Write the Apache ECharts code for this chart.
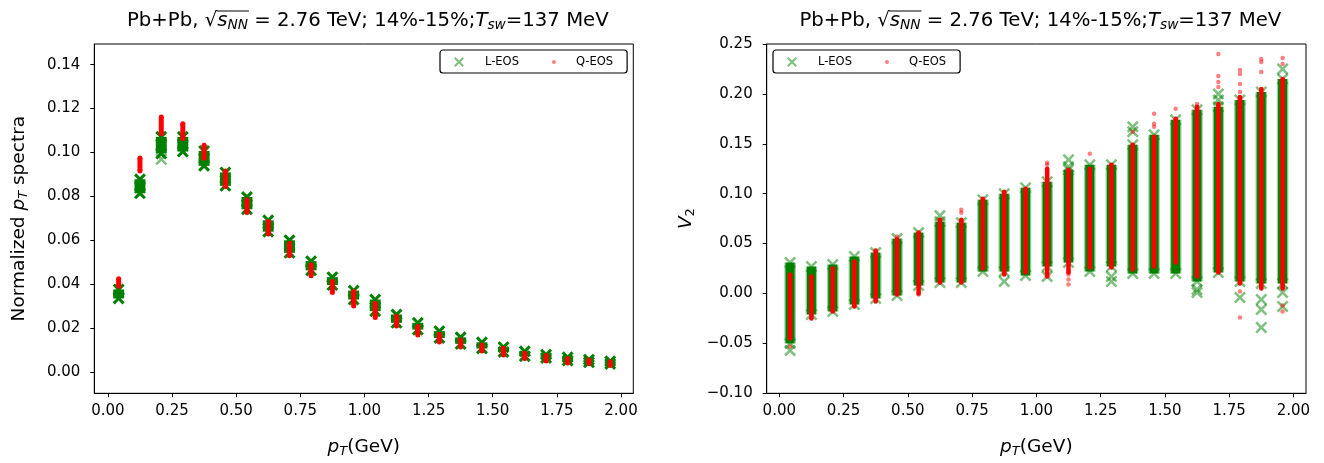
<!DOCTYPE html>
<html><head><meta charset="utf-8">
<script src="https://cdn.jsdelivr.net/npm/echarts@6/dist/echarts.min.js"></script>
<style>html,body{margin:0;padding:0;background:#fff}#c{width:1324px;height:463px}</style>
</head><body><div id="c"></div>
<script>
// ---------------- data ----------------
const pT = [0.042, 0.125, 0.208, 0.292, 0.375, 0.458, 0.542, 0.625, 0.708, 0.792, 0.875, 0.958,
            1.042, 1.125, 1.208, 1.292, 1.375, 1.458, 1.542, 1.625, 1.708, 1.792, 1.875, 1.958];
const xTicks = [0, 0.25, 0.5, 0.75, 1.0, 1.25, 1.5, 1.75, 2.0];
const specTicks = [0, 0.02, 0.04, 0.06, 0.08, 0.10, 0.12, 0.14];
const v2Ticks = [-0.10, -0.05, 0, 0.05, 0.10, 0.15, 0.20, 0.25];

// normalized pT spectra: range of the dense column of markers
const specL_hi = [0.0376, 0.0878, 0.1071, 0.1071, 0.1007, 0.0909, 0.0797, 0.0691, 0.0600, 0.0505, 0.0432, 0.0371, 0.0330, 0.0262, 0.0224, 0.0186, 0.0158, 0.0135, 0.0113, 0.0094, 0.0079, 0.0067, 0.0056, 0.0049];
const specL_lo = [0.0335, 0.0814, 0.0995, 0.1004, 0.0939, 0.0848, 0.0741, 0.0639, 0.0543, 0.0463, 0.0396, 0.0330, 0.0277, 0.0224, 0.0193, 0.0155, 0.0128, 0.0107, 0.0091, 0.0072, 0.0064, 0.0052, 0.0044, 0.0037];
const specQ_hi = [0.0425, 0.0975, 0.1161, 0.1131, 0.1033, 0.0915, 0.0785, 0.0686, 0.0587, 0.0489, 0.0412, 0.0367, 0.0313, 0.0253, 0.0207, 0.0172, 0.0146, 0.0123, 0.0108, 0.0085, 0.0075, 0.0062, 0.0055, 0.0047];
const specQ_lo = [0.0391, 0.0915, 0.1085, 0.1062, 0.0974, 0.0845, 0.0727, 0.0629, 0.0530, 0.0438, 0.0362, 0.0301, 0.0248, 0.0210, 0.0169, 0.0137, 0.0114, 0.0096, 0.0078, 0.0062, 0.0050, 0.0041, 0.0038, 0.0030];
const specL_out = [[2, 0.0969]];   // [column index, value]
const specQ_out = [];

// v2: range of the dense column of markers
const v2L_hi = [0.031, 0.027, 0.029, 0.037, 0.041, 0.055, 0.061, 0.072, 0.071, 0.094, 0.100, 0.106, 0.112, 0.124, 0.129, 0.129, 0.149, 0.159, 0.174, 0.184, 0.187, 0.194, 0.202, 0.215];
const v2L_lo = [-0.050, -0.021, -0.018, -0.011, -0.005, -0.002, 0.008, 0.011, 0.011, 0.022, 0.022, 0.018, 0.027, 0.031, 0.022, 0.027, 0.020, 0.020, 0.020, 0.012, 0.021, 0.012, 0.010, 0.010];
const v2Q_hi = [0.019, 0.017, 0.025, 0.032, 0.043, 0.054, 0.061, 0.074, 0.074, 0.095, 0.102, 0.105, 0.125, 0.124, 0.125, 0.129, 0.149, 0.157, 0.175, 0.187, 0.190, 0.197, 0.205, 0.215];
const v2Q_lo = [-0.045, -0.025, -0.018, -0.013, -0.008, -0.001, 0.000, 0.011, 0.011, 0.025, 0.019, 0.021, 0.017, 0.021, 0.026, 0.026, 0.024, 0.027, 0.031, 0.017, 0.021, 0.010, 0.005, 0.005];
const v2L_out = [[0,-0.057],[7,0.078],[10,0.012],[12,0.017],[13,0.134],[13,0.127],[15,0.017],[15,0.012],[16,0.167],[16,0.162],[19,0.004],[19,0.001],[20,0.200],[20,0.194],[21,-0.004],[22,-0.006],[22,-0.016],[22,-0.034],[23,0.225],[23,0.001],[23,-0.013]];
const v2Q_out = [[0,-0.053],[5,0.057],[5,0.054],[6,-0.001],[8,0.084],[8,0.081],[12,0.131],[12,0.129],[13,0.019],[13,0.014],[13,0.009],[14,0.140],[16,0.162],[17,0.180],[17,0.170],[17,0.167],[18,0.185],[19,0.190],[20,0.240],[20,0.218],[20,0.212],[20,0.207],[21,0.224],[21,0.220],[21,0.210],[21,0.202],[21,-0.024],[21,0.002],[22,0.235],[22,0.232],[22,0.222],[23,0.236],[23,0.230],[23,-0.018],[23,-0.012]];

// ---------------- styling ----------------
const FONT = 'DejaVu Sans';
const TS = 19.7, SS = 13.7;
const GREEN = '#008000', GREEN_A = 'rgba(0,128,0,0.5)', GREEN_F = 'rgba(0,128,0,0.4)';
const RED = '#ff0000', RED_A = 'rgba(255,0,0,0.5)';
const XSYM = 'path://M0,1.5L1.5,0L5,3.5L8.5,0L10,1.5L6.5,5L10,8.5L8.5,10L5,6.5L1.5,10L0,8.5L3.5,5Z';
const XBOLD = 'path://M0,1.8L1.8,0L5,3.2L8.2,0L10,1.8L6.8,5L10,8.2L8.2,10L5,6.8L1.8,10L0,8.2L3.2,5Z';
const DOTICON = 'path://M0,0L0.01,0L0,0.01Z M9.99,10L10,10L10,9.99Z M3,5A2,2 0 1 1 7,5A2,2 0 1 1 3,5Z';

const chart = echarts.init(document.getElementById('c'), null, {renderer: 'canvas'});

const rich = {
  a: {fontFamily: FONT, fontSize: 18.5, fontWeight: 'normal', color: '#000'},
  i: {fontFamily: FONT, fontSize: 18.5, fontWeight: 'normal', fontStyle: 'italic', color: '#000'},
  sub: {fontFamily: FONT, fontSize: 13, fontWeight: 'normal', fontStyle: 'italic', color: '#000', padding: [9, 0, 0, 0]},
  sub2: {fontFamily: FONT, fontSize: 13, fontWeight: 'normal', color: '#000', padding: [9, 0, 0, 0]}
};
const trich = {
  a: {fontFamily: FONT, fontSize: TS, fontWeight: 'normal', color: '#000'},
  i: {fontFamily: FONT, fontSize: TS, fontWeight: 'normal', fontStyle: 'italic', color: '#000'},
  sub: {fontFamily: FONT, fontSize: SS, fontWeight: 'normal', fontStyle: 'italic', color: '#000', padding: [9, 0, 0, 0]}
};
const titleText = '{a|Pb+Pb, √}{i|s}{sub|NN}{a| = 2.76 TeV; 14%-15%;}{i|T}{sub|sw}{a|=137 MeV}';

const G = [{left: 94.3, top: 44, width: 539, height: 349.3},
           {left: 766.7, top: 44, width: 539.3, height: 349.3}];

function fmt(v) { const s = v.toFixed(2); return v < 0 ? '\u2212' + s.slice(1) : s; }

function xAxis(gi) {
  return {
    type: 'value', gridIndex: gi, min: gi === 0 ? -0.053 : -0.049, max: gi === 0 ? 2.048 : 2.049,
    splitLine: {show: false},
    axisLine: {show: true, onZero: false, lineStyle: {color: '#000', width: 1}},
    axisTick: {show: true, length: 4, lineStyle: {color: '#000', width: 1}, customValues: xTicks},
    axisLabel: {show: true, customValues: xTicks, formatter: fmt, fontFamily: FONT, fontSize: 15, color: '#000', margin: 10},
    name: '{i|p}{sub|T}{a|(GeV)}', nameLocation: 'middle', nameGap: 43,
    nameTextStyle: {rich: rich}
  };
}
function yAxis(gi) {
  const isSpec = gi === 0;
  const ticks = isSpec ? specTicks : v2Ticks;
  return {
    type: 'value', gridIndex: gi, min: isSpec ? -0.0097 : -0.10, max: isSpec ? 0.1494 : 0.25,
    splitLine: {show: false},
    axisLine: {show: true, onZero: false, lineStyle: {color: '#000', width: 1}},
    axisTick: {show: true, length: 4, lineStyle: {color: '#000', width: 1}, customValues: ticks},
    axisLabel: {show: true, customValues: ticks, formatter: fmt, fontFamily: FONT, fontSize: 15, color: '#000', margin: 14},
    name: isSpec ? '{a|Normalized }{i|p}{sub|T}{a| spectra}' : '{i|V}{sub2|2}',
    nameLocation: 'middle', nameRotate: 90, nameGap: isSpec ? 64 : 70,
    nameTextStyle: {rich: rich}
  };
}

function rangeSeries(name, gi, lo, hi, width, color, z) {
  return {
    type: 'custom', name: name, xAxisIndex: gi, yAxisIndex: gi, z: z,
    data: pT.map((x, i) => [x, lo[i], hi[i]]),
    encode: {x: 0, y: [1, 2]},
    renderItem: function (params, api) {
      const pTop = api.coord([api.value(0), api.value(2)]);
      const pBot = api.coord([api.value(0), api.value(1)]);
      return {
        type: 'rect',
        shape: {x: pTop[0] - width / 2, y: pTop[1], width: width, height: Math.max(pBot[1] - pTop[1], 0.5)},
        style: {fill: color}
      };
    },
    silent: true
  };
}
function endSeries(name, gi, lo, hi, symbol, size, color, z) {
  const data = [];
  pT.forEach((x, i) => { data.push([x, lo[i]]); data.push([x, hi[i]]); });
  return {type: 'scatter', name: name, xAxisIndex: gi, yAxisIndex: gi, z: z, symbol: symbol, symbolSize: size,
          itemStyle: {color: color, opacity: 1}, data: data, silent: true};
}
function outSeries(name, gi, pts, symbol, size, color, z) {
  return {type: 'scatter', name: name, xAxisIndex: gi, yAxisIndex: gi, z: z, symbol: symbol, symbolSize: size,
          itemStyle: {color: color, opacity: 1}, data: pts.map(p => [pT[p[0]], p[1]]), silent: true};
}

function legend(left) {
  return {
    left: left, top: 50, orient: 'horizontal', itemGap: 30, itemWidth: 10, itemHeight: 10,
    padding: [6, 14, 5, 14], borderColor: '#000', borderWidth: 1.2, borderRadius: 3, backgroundColor: '#fff',
    selectedMode: false,
    textStyle: {fontFamily: FONT, fontSize: 11.5, color: '#000'},
    data: [
      {name: 'L-EOS', icon: XSYM, itemStyle: {color: GREEN_A}, textStyle: {padding: [0, 0, 0, 16]}},
      {name: 'Q-EOS', icon: DOTICON, itemStyle: {color: RED_A}, textStyle: {padding: [0, 0, 0, 12]}}
    ]
  };
}

const series = [];
// spectra panel
series.push(rangeSeries('L-EOS', 0, specL_lo, specL_hi, 11, GREEN, 2));
series.push(endSeries('L-EOS', 0, specL_lo, specL_hi, XBOLD, 12, GREEN, 3));
series.push(outSeries('L-EOS', 0, specL_out, XSYM, 12, GREEN_A, 3));
series.push(rangeSeries('Q-EOS', 0, specQ_lo, specQ_hi, 5, RED, 4));
series.push(endSeries('Q-EOS', 0, specQ_lo, specQ_hi, 'circle', 5, RED, 5));
series.push(outSeries('Q-EOS', 0, specQ_out, 'circle', 5, RED_A, 5));
// v2 panel
series.push(rangeSeries('L-EOS', 1, v2L_lo, v2L_hi, 11.5, GREEN_F, 1));
series.push(rangeSeries('L-EOS', 1, v2L_lo, v2L_hi, 9, GREEN, 2));
series.push(endSeries('L-EOS', 1, v2L_lo, v2L_hi, XSYM, 12, GREEN_A, 3));
series.push(outSeries('L-EOS', 1, v2L_out, XSYM, 12, GREEN_A, 3));
series.push(rangeSeries('Q-EOS', 1, v2Q_lo, v2Q_hi, 4.5, RED, 4));
series.push(endSeries('Q-EOS', 1, v2Q_lo, v2Q_hi, 'circle', 4.5, RED, 5));
series.push(outSeries('Q-EOS', 1, v2Q_out, 'circle', 4.5, RED_A, 5));

// overline of the square root in the titles, measured from the text
const cv = document.createElement('canvas').getContext('2d');
function mw(txt, size, italic) { cv.font = (italic ? 'italic ' : '') + size + 'px "' + FONT + '"'; return cv.measureText(txt).width; }
const tokens = [['Pb+Pb, √', TS, false], ['s', TS, true], ['NN', SS, true], [' = 2.76 TeV; 14%-15%;', TS, false],
                ['T', TS, true], ['sw', SS, true], ['=137 MeV', TS, false]];
const totalW = tokens.reduce((s, t) => s + mw(t[0], t[1], t[2]), 0);
const wPre = mw('Pb+Pb, √', TS, false);
const wRad = wPre + mw('s', TS, true) + mw('NN', SS, true);
const centers = [G[0].left + G[0].width / 2 + 4, G[1].left + G[1].width / 2 + 4];
const overlines = centers.map(c => {
  const x0 = c - totalW / 2;
  return {type: 'line', shape: {x1: x0 + wPre - 0.5, y1: 11, x2: x0 + wRad + 1, y2: 11}, style: {stroke: '#000', lineWidth: 1}, z: 100};
});

chart.setOption({
  animation: false,
  backgroundColor: '#fff',
  title: centers.map(c => ({text: titleText, left: c, top: 9, textAlign: 'center', padding: 0,
                             textStyle: {fontWeight: 'normal', fontFamily: FONT, fontSize: TS, rich: trich}})),
  grid: G.map(g => Object.assign({show: true, borderColor: '#000', borderWidth: 1, backgroundColor: 'transparent', containLabel: false, outerBoundsMode: 'none'}, g)),
  xAxis: [xAxis(0), xAxis(1)],
  yAxis: [yAxis(0), yAxis(1)],
  legend: [legend(440), legend(773)],
  graphic: overlines,
  series: series
});
</script></body></html>
